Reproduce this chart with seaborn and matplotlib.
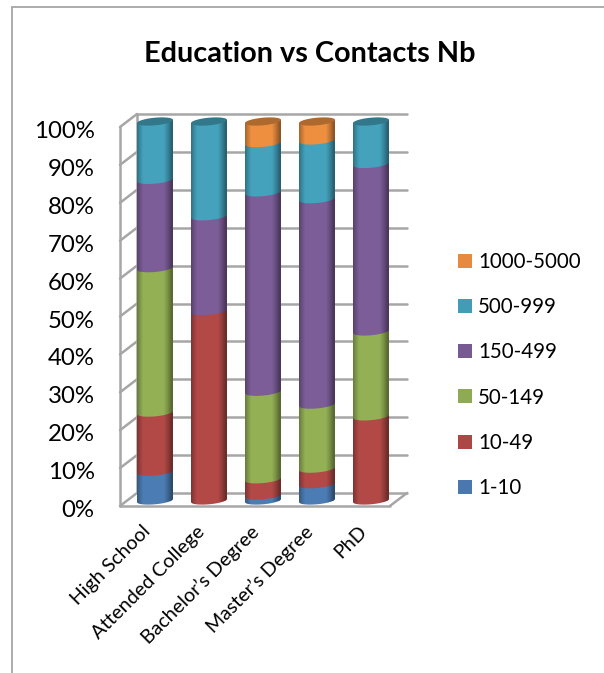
import numpy as np
import pandas as pd
import matplotlib
matplotlib.use("Agg")
import matplotlib.pyplot as plt
from matplotlib.path import Path
from matplotlib.patches import Patch, PathPatch
from matplotlib.transforms import ScaledTranslation
from matplotlib.lines import Line2D
import seaborn as sns

education = ["High School", "Attended College", "Bachelor\u2019s Degree", "Master\u2019s Degree", "PhD"]
band_1_10 = [7.6, 0, 1.3, 4.3, 0]
band_10_49 = [15.6, 50, 4.3, 4.1, 22.2]
band_50_149 = [38.1, 0, 23.1, 16.9, 22.4]
band_150_499 = [23.3, 25, 52.6, 54.2, 44.2]
band_500_999 = [15.4, 25, 13.0, 15.5, 11.2]
band_1000_5000 = [0, 0, 5.7, 5.0, 0]
bands = ["1-10", "10-49", "50-149", "150-499", "500-999", "1000-5000"]
colors = ["#4a78ae", "#ad4745", "#8eaa52", "#785a93", "#429cb6", "#e58a3e"]
y_ticks = list(range(0, 101, 10))

W, H = 604, 673
sns.set_style("white")
plt.rcParams["font.family"] = ["Lato", "DejaVu Sans"]
fig = plt.figure(figsize=(W / 100, H / 100), dpi=100)

# Axes placed so category spacing is 54 px and 10% is 37.9 px
px_x, px_y = 54.0, 3.79
ax = fig.add_axes([128 / W, (H - 519.45) / H, 270 / W, (519.45 - 102.55) / H])
ax.patch.set_alpha(0)

df = pd.DataFrame({"education": education, "1-10": band_1_10, "10-49": band_10_49,
                   "50-149": band_50_149, "150-499": band_150_499,
                   "500-999": band_500_999, "1000-5000": band_1000_5000})
BAR_W = 36 / 54
bottom = np.zeros(len(education))
seg_info = []
for band, col in zip(bands, colors):
    n0 = len(ax.patches)
    sns.barplot(data=df, x="education", y=band, color=col, saturation=1, width=BAR_W,
                bottom=bottom.copy(), ax=ax, zorder=2)
    for i, p in enumerate(ax.patches[n0:]):
        seg_info.append((p, col, i, df[band][i] > 0))
    bottom += df[band].to_numpy()

ax.set_xlim(-0.5, 4.5)
ax.set_ylim(-5, 105)
for s in ax.spines.values():
    s.set_visible(False)
ax.set_xlabel("")
ax.set_ylabel("")

# Walls and gridlines
GRID = "#a6a6a6"
bx, by = 9 / px_x, 7.5 / px_y
fx, fy = -8 / px_x, -5.5 / px_y
L, R = -0.5, 4.5
lkw = dict(color=GRID, lw=1.8, clip_on=False, zorder=1, solid_capstyle="round")
for v in y_ticks:
    ax.plot([L + fx - 0 , L + bx], [v + fy, v + by], **lkw)
    ax.plot([L + bx, R + bx], [v + by, v + by], **lkw)
ax.plot([L + fx, L + fx], [y_ticks[0] + fy, y_ticks[-1] + fy], **lkw)
ax.plot([L + bx, L + bx], [y_ticks[0] + by, y_ticks[-1] + by], **lkw)
ax.plot([L + fx, R - 0.15], [fy, fy], **lkw)
ax.plot([R - 0.15, R + bx], [fy, by], **lkw)

# Cylinder look on each seaborn bar
E, S = 3.8 / px_y, 1.6 / px_y
u = np.linspace(-1, 1, 60)
shade = 0.62 + 0.42 * np.clip((1 - np.abs(u + 0.08)) / 0.42, 0, 1) ** 0.8
z = 3
tops = {}
for p, col, i, visible in seg_info:
    if not visible:
        p.set_visible(False)
        continue
    x0, w, b, h = p.get_x(), p.get_width(), p.get_y(), p.get_height()
    xs = x0 + (u + 1) / 2 * w
    lower = b - E * np.sqrt(1 - u ** 2) + S * u
    upper = b + h + S * u
    verts = np.r_[np.c_[xs, lower], np.c_[xs, upper][::-1], [[xs[0], lower[0]]]]
    path = Path(verts, closed=True)
    rgb = np.array(matplotlib.colors.to_rgb(col))
    grad = np.clip(shade[None, :, None] * rgb[None, None, :], 0, 1)
    im = ax.imshow(grad, extent=(x0, x0 + w, b - 3, b + h + 3), aspect="auto",
                   zorder=z, interpolation="bilinear")
    im.set_clip_path(path, transform=ax.transData)
    p.set_clip_path(path, transform=ax.transData)
    tops[i] = (x0, w, b + h, rgb)
    z += 1
th = np.linspace(0, 2 * np.pi, 80)
for i, (x0, w, t, rgb) in tops.items():
    cx = x0 + w / 2 + w / 2 * np.cos(th)
    cy = t + E * np.sin(th) + S * np.cos(th)
    ax.add_patch(PathPatch(Path(np.c_[cx, cy], closed=False), fc=rgb * 0.76, ec="none",
                           zorder=z, clip_on=False))
ax.set_xlim(-0.5, 4.5)
ax.set_ylim(-5, 105)

# Tick labels
ax.set_yticks(y_ticks)
ax.set_yticklabels([f"{v}%" for v in y_ticks], fontsize=17.3, color="black")
ax.tick_params(axis="both", length=0)
ax.tick_params(axis="y", pad=24)
down = ScaledTranslation(0, -8 / 100, fig.dpi_scale_trans)
for t in ax.get_yticklabels():
    t.set_transform(t.get_transform() + down)
ax.set_xticks(range(len(education)))
ax.set_xticklabels(education, rotation=45, ha="right", rotation_mode="anchor",
                   fontsize=14.1, color="black")
ax.tick_params(axis="x", pad=0)
shift = ScaledTranslation(-13 / 100, -3 / 100, fig.dpi_scale_trans)
for t in ax.get_xticklabels():
    t.set_transform(t.get_transform() + shift)

# Title, legend, chart frame
fig.text(310 / W, 1 - 53.5 / H, "Education vs Contacts Nb", ha="center", va="center",
         fontsize=20.8, fontweight="bold", color="black")
handles = [Patch(fc=c, ec="none") for c in colors[::-1]]
fig.legend(handles, bands[::-1], loc="center left", bbox_to_anchor=(458 / W, 1 - 375 / H),
           frameon=False, fontsize=14.8, handlelength=0.68, handleheight=0.68,
           handletextpad=0.29, labelspacing=1.225, borderpad=0, borderaxespad=0, labelcolor="black")
frame = "#a6a6a6"
fig.add_artist(Line2D([12 / W, 12 / W], [0, 1 - 7 / H], color=frame, lw=1.3))
fig.add_artist(Line2D([12 / W, 1], [1 - 7 / H, 1 - 7 / H], color=frame, lw=1.3))

fig.savefig("out.png", dpi=100)
